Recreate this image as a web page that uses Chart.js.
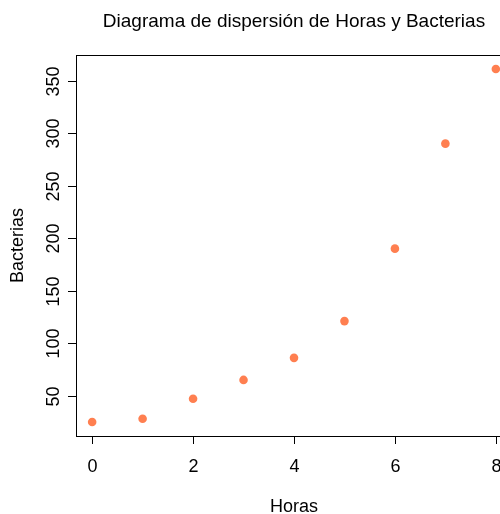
<!DOCTYPE html>
<html lang="es">
<head>
    <meta charset="UTF-8">
    <title>Diagrama de dispersión</title>
    <script src="https://cdn.jsdelivr.net/npm/chart.js"></script>
    <style>
        body { margin: 0; overflow: hidden; background: #fff; }
        .wrap { width: 520px; height: 514px; }
    </style>
</head>
<body>
    <div class="wrap"><canvas id="scatterChart" width="520" height="514"></canvas></div>
    <script>
        // datos
        const horas = [0, 1, 2, 3, 4, 5, 6, 7, 8];
        const bacterias = [25, 28, 47, 65, 86, 121, 190, 290, 361];
        const xTicks = [0, 2, 4, 6, 8];
        const yTicks = [50, 100, 150, 200, 250, 300, 350];

        const titulo = 'Diagrama de dispersión de Horas y Bacterias';
        const FONT = '"Liberation Sans", Arial, sans-serif';

        // ejes estilo R base
        const ejesR = {
            id: 'ejesR',
            afterDraw(chart) {
                const ctx = chart.ctx;
                const a = chart.chartArea;
                const sx = chart.scales.x, sy = chart.scales.y;
                ctx.save();
                ctx.strokeStyle = '#000';
                ctx.lineWidth = 1;
                ctx.strokeRect(Math.round(a.left) + 0.5, Math.round(a.top) + 0.5,
                    Math.round(a.right - a.left), Math.round(a.bottom - a.top));

                ctx.fillStyle = '#000';
                ctx.font = '18px ' + FONT;
                ctx.textAlign = 'center';
                ctx.textBaseline = 'middle';
                xTicks.forEach(v => {
                    const px = Math.round(sx.getPixelForValue(v)) + 0.5;
                    ctx.beginPath();
                    ctx.moveTo(px, a.bottom);
                    ctx.lineTo(px, a.bottom + 8);
                    ctx.stroke();
                    ctx.fillText(String(v), px, a.bottom + 31);
                });
                yTicks.forEach(v => {
                    const py = Math.round(sy.getPixelForValue(v)) + 0.5;
                    ctx.beginPath();
                    ctx.moveTo(a.left, py);
                    ctx.lineTo(a.left - 8, py);
                    ctx.stroke();
                    ctx.save();
                    ctx.translate(a.left - 22, py);
                    ctx.rotate(-Math.PI / 2);
                    ctx.fillText(String(v), 0, 0);
                    ctx.restore();
                });

                ctx.fillText('Horas', (a.left + a.right) / 2, a.bottom + 71);
                ctx.save();
                ctx.translate(18, (a.top + a.bottom) / 2);
                ctx.rotate(-Math.PI / 2);
                ctx.fillText('Bacterias', 0, 0);
                ctx.restore();

                ctx.font = '19px ' + FONT;
                ctx.fillText(titulo, (a.left + a.right) / 2, 22);
                ctx.restore();
            }
        };

        new Chart(document.getElementById('scatterChart'), {
            type: 'scatter',
            data: {
                datasets: [{
                    label: 'Bacterias',
                    data: horas.map((h, i) => ({ x: h, y: bacterias[i] })),
                    backgroundColor: '#FF7F50',
                    borderWidth: 0,
                    pointRadius: 4.3,
                    pointHoverRadius: 4.3
                }]
            },
            options: {
                responsive: false,
                animation: false,
                layout: { padding: { left: 76, top: 55, right: 8, bottom: 78 } },
                plugins: { legend: { display: false }, tooltip: { enabled: false }, title: { display: false } },
                scales: {
                    x: { type: 'linear', min: -0.32, max: 8.32, display: false },
                    y: { type: 'linear', min: 11.6, max: 374.4, display: false }
                }
            },
            plugins: [ejesR]
        });
    </script>
</body>
</html>
